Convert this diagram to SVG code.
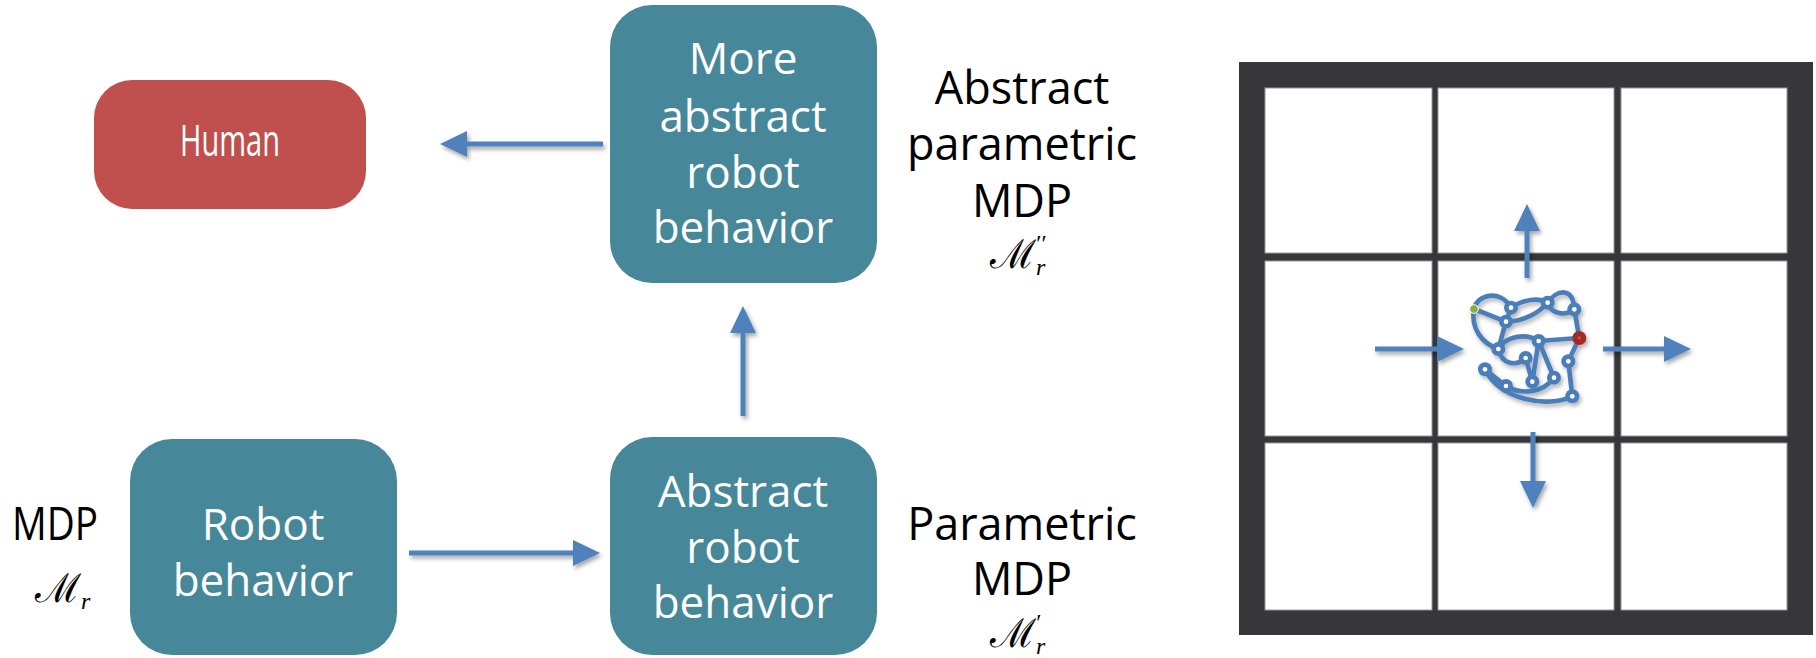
<svg xmlns="http://www.w3.org/2000/svg" width="1816" height="658" viewBox="0 0 1816 658">
  <style>
    .box-teal { fill: #468799; }
    .box-red { fill: #C0504D; }
    .box-text { font-family: "Open Sans", "Noto Sans", sans-serif; font-size: 44px; fill: #ffffff; text-anchor: middle; }
    .label { font-family: "Open Sans", "Noto Sans", sans-serif; font-size: 45px; fill: #000000; text-anchor: middle; }
    .math { font-family: "DejaVu Serif", "Liberation Serif", serif; font-size: 40px; fill: #000000; }
    .math-sub { font-family: "Liberation Serif", "DejaVu Serif", serif; font-size: 24px; font-style: italic; fill: #000000; }
    .prime { font-family: "Liberation Serif", "DejaVu Serif", serif; font-size: 24px; fill: #000000; }
    .conn { stroke: #4F81BD; stroke-width: 5; fill: none; }
    .cell { fill: #ffffff; stroke: #9a9a9a; stroke-width: 1; }
    .edge { stroke: #4A7EBB; stroke-width: 14; fill: none; stroke-linecap: round; }
    .gnode { fill: #4A7EBB; }
    .gdot { fill: #ffffff; }
  </style>
  <defs>
    <marker id="head" markerUnits="userSpaceOnUse" markerWidth="27" markerHeight="26" refX="1" refY="13" orient="auto">
      <path d="M0,0 L27,13 L0,26 Z" fill="#4F81BD"/>
    </marker>
    <filter id="shadow" x="-20%" y="-50%" width="140%" height="200%">
      <feDropShadow dx="2" dy="3" stdDeviation="2" flood-color="#000000" flood-opacity="0.35"/>
    </filter>
    <filter id="gshadow" x="-20%" y="-20%" width="140%" height="140%">
      <feDropShadow dx="6" dy="9" stdDeviation="6" flood-color="#000000" flood-opacity="0.3"/>
    </filter>
  </defs>

  <!-- Flow nodes -->
  <g id="human">
    <rect class="box-red" x="94" y="80" width="272" height="129" rx="38" ry="38"/>
    <text class="box-text" x="230" y="156" font-size="34" textLength="100" lengthAdjust="spacingAndGlyphs">Human</text>
  </g>

  <g id="more-abstract-behavior">
    <rect class="box-teal" x="610" y="5" width="267" height="278" rx="42" ry="42"/>
    <text class="box-text" x="743" y="74">More</text>
    <text class="box-text" x="743" y="132">abstract</text>
    <text class="box-text" x="743" y="188">robot</text>
    <text class="box-text" x="743" y="243">behavior</text>
  </g>

  <g id="robot-behavior">
    <rect class="box-teal" x="130" y="439" width="267" height="216" rx="42" ry="42"/>
    <text class="box-text" x="263" y="540">Robot</text>
    <text class="box-text" x="263" y="596">behavior</text>
  </g>

  <g id="abstract-behavior">
    <rect class="box-teal" x="610" y="437" width="267" height="218" rx="42" ry="42"/>
    <text class="box-text" x="743" y="507">Abstract</text>
    <text class="box-text" x="743" y="563">robot</text>
    <text class="box-text" x="743" y="618">behavior</text>
  </g>

  <!-- Model labels -->
  <g id="label-mdp">
    <text class="label" x="55" y="540" textLength="86" lengthAdjust="spacingAndGlyphs">MDP</text>
    <text x="35" y="602"><tspan class="math">ℳ</tspan><tspan class="math-sub" dy="7">r</tspan></text>
  </g>

  <g id="label-abstract-parametric">
    <text class="label" x="1022" y="104">Abstract</text>
    <text class="label" x="1022" y="160">parametric</text>
    <text class="label" x="1022" y="217">MDP</text>
    <text x="990" y="268"><tspan class="math">ℳ</tspan><tspan class="math-sub" dy="7">r</tspan><tspan class="prime" dx="-9" dy="-24">′′</tspan></text>
  </g>

  <g id="label-parametric">
    <text class="label" x="1022" y="540">Parametric</text>
    <text class="label" x="1022" y="595">MDP</text>
    <text x="990" y="647"><tspan class="math">ℳ</tspan><tspan class="math-sub" dy="7">r</tspan><tspan class="prime" dx="-9" dy="-24">′</tspan></text>
  </g>

  <!-- Connectors -->
  <g id="connectors" filter="url(#shadow)">
    <line class="conn" x1="603" y1="144" x2="466" y2="144" marker-end="url(#head)"/>
    <line class="conn" x1="743" y1="416" x2="743" y2="332" marker-end="url(#head)"/>
    <line class="conn" x1="409" y1="553" x2="574" y2="553" marker-end="url(#head)"/>
  </g>

  <!-- Grid world -->
  <g id="grid">
    <rect x="1239" y="62" width="574" height="573" fill="#37363B"/>
    <rect class="cell" x="1265" y="88" width="167" height="165"/>
    <rect class="cell" x="1438" y="88" width="176" height="165"/>
    <rect class="cell" x="1621" y="88" width="166" height="165"/>
    <rect class="cell" x="1265" y="261" width="167" height="175"/>
    <rect class="cell" x="1438" y="261" width="176" height="175"/>
    <rect class="cell" x="1621" y="261" width="166" height="175"/>
    <rect class="cell" x="1265" y="443" width="167" height="167"/>
    <rect class="cell" x="1438" y="443" width="176" height="167"/>
    <rect class="cell" x="1621" y="443" width="166" height="167"/>
  </g>

  <g id="grid-moves" filter="url(#shadow)">
    <line class="conn" x1="1527" y1="278" x2="1527" y2="230" marker-end="url(#head)"/>
    <line class="conn" x1="1375" y1="349" x2="1438" y2="349" marker-end="url(#head)"/>
    <line class="conn" x1="1603" y1="349" x2="1665" y2="349" marker-end="url(#head)"/>
    <line class="conn" x1="1533" y1="432" x2="1533" y2="482" marker-end="url(#head)"/>
  </g>

  <!-- State graph inside the centre cell -->
  <g id="state-graph" transform="translate(1400,260) scale(0.3333)" filter="url(#gshadow)">
    <path class="edge" d="M222,147 C230,105 300,85 333,143"/>
    <path class="edge" d="M222,147 L318,185"/>
    <path class="edge" d="M222,147 C212,205 245,250 295,267"/>
    <path class="edge" d="M333,143 L318,185"/>
    <path class="edge" d="M333,143 C370,118 415,112 443,128"/>
    <path class="edge" d="M318,185 C370,185 415,160 443,128"/>
    <path class="edge" d="M443,128 C470,88 520,80 523,148"/>
    <path class="edge" d="M443,128 C455,165 500,168 523,148"/>
    <path class="edge" d="M523,148 L538,234"/>
    <path class="edge" d="M538,234 L416,243"/>
    <path class="edge" d="M538,234 L505,304"/>
    <path class="edge" d="M505,304 L517,409"/>
    <path class="edge" d="M255,328 L318,378"/>
    <path class="edge" d="M255,328 C300,420 440,445 517,409"/>
    <path class="edge" d="M318,378 C360,405 430,400 462,353"/>
    <path class="edge" d="M295,267 L318,185"/>
    <path class="edge" d="M295,267 C320,225 380,220 416,243"/>
    <path class="edge" d="M295,267 C305,315 350,320 377,294"/>
    <path class="edge" d="M377,294 L397,365"/>
    <path class="edge" d="M416,243 L397,365"/>
    <path class="edge" d="M416,243 L462,353"/>

    <g class="gnode">
      <circle cx="333" cy="143" r="21"/>
      <circle cx="318" cy="185" r="21"/>
      <circle cx="443" cy="128" r="21"/>
      <circle cx="523" cy="148" r="21"/>
      <circle cx="295" cy="267" r="21"/>
      <circle cx="416" cy="243" r="21"/>
      <circle cx="377" cy="294" r="21"/>
      <circle cx="505" cy="304" r="21"/>
      <circle cx="255" cy="328" r="21"/>
      <circle cx="318" cy="378" r="21"/>
      <circle cx="397" cy="365" r="21"/>
      <circle cx="462" cy="353" r="21"/>
      <circle cx="517" cy="409" r="21"/>
    </g>
    <g class="gdot">
      <circle cx="333" cy="143" r="7"/>
      <circle cx="318" cy="185" r="7"/>
      <circle cx="443" cy="128" r="7"/>
      <circle cx="523" cy="148" r="7"/>
      <circle cx="295" cy="267" r="7"/>
      <circle cx="416" cy="243" r="7"/>
      <circle cx="377" cy="294" r="7"/>
      <circle cx="505" cy="304" r="7"/>
      <circle cx="255" cy="328" r="7"/>
      <circle cx="318" cy="378" r="7"/>
      <circle cx="397" cy="365" r="7"/>
      <circle cx="462" cy="353" r="7"/>
      <circle cx="517" cy="409" r="7"/>
    </g>
    <circle cx="222" cy="147" r="13" fill="#8AAE3F" stroke="#ffffff" stroke-width="3"/>
    <circle cx="538" cy="234" r="21" fill="#A42B27"/>
    <circle cx="538" cy="234" r="5" fill="#C9504B"/>
  </g>
</svg>
